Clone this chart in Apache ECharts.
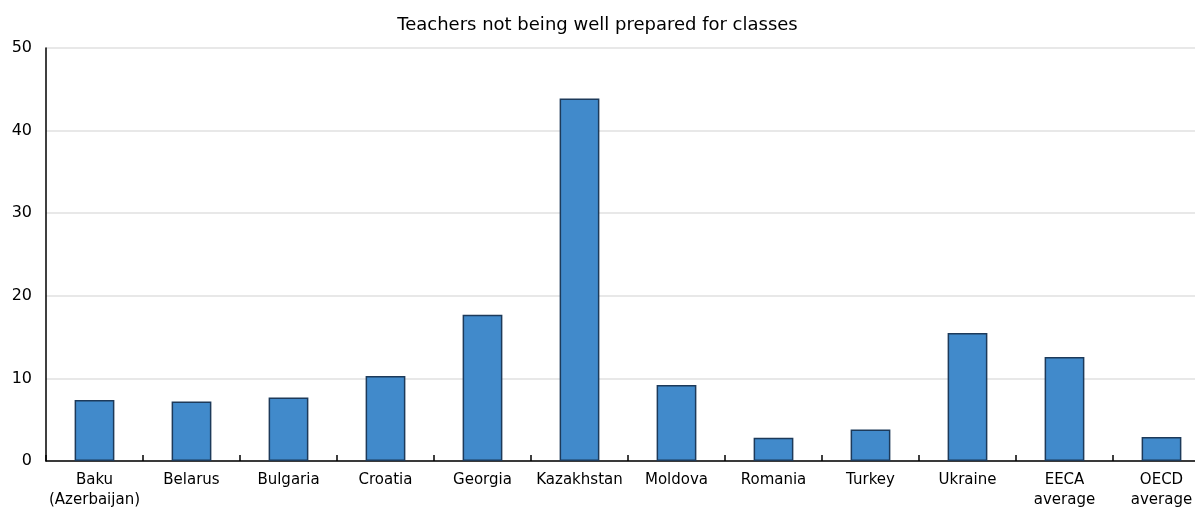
<!DOCTYPE html>
<html>
<head>
<meta charset="utf-8">
<script src="https://cdn.jsdelivr.net/npm/echarts@6/dist/echarts.min.js"></script>
<style>
  html, body { margin: 0; padding: 0; background: #fff; }
  #chart { width: 1195px; height: 508px; }
</style>
</head>
<body>
<div id="chart"></div>
<script>
var categories = ['Baku\n(Azerbaijan)', 'Belarus', 'Bulgaria', 'Croatia', 'Georgia', 'Kazakhstan',
  'Moldova', 'Romania', 'Turkey', 'Ukraine', 'EECA\naverage', 'OECD\naverage'];
var values = [7.4, 7.2, 7.7, 10.3, 17.7, 43.9, 9.2, 2.8, 3.8, 15.5, 12.6, 2.9];
var yTicks = [0, 10, 20, 30, 40, 50];

var chartDom = document.getElementById('chart');
var myChart = echarts.init(chartDom);

var option = {
  animation: false,
  textStyle: { fontFamily: 'DejaVu Sans' },
  title: {
    text: 'Teachers not being well prepared for classes',
    left: 'center',
    top: 11,
    textStyle: { fontSize: 18, fontWeight: 'normal', color: '#000', fontFamily: 'DejaVu Sans' }
  },
  // plot runs a bit past the right edge, like the source image
  grid: { left: 46, width: 1164, top: 48, height: 413, containLabel: false, outerBoundsMode: 'none' },
  xAxis: {
    type: 'category',
    data: categories,
    axisLine: { lineStyle: { color: '#000', width: 1.5 } },
    axisTick: { show: true, inside: true, length: 6, lineStyle: { color: '#000', width: 1.5 } },
    axisLabel: { color: '#000', fontSize: 15, margin: 9, lineHeight: 20, interval: 0 }
  },
  yAxis: {
    type: 'value',
    min: yTicks[0],
    max: yTicks[yTicks.length - 1],
    interval: 10,
    axisLine: { show: true, lineStyle: { color: '#000', width: 1.5 } },
    axisTick: { show: false },
    axisLabel: { color: '#000', fontSize: 16, margin: 14 },
    splitLine: { lineStyle: { color: '#e0e0e0', width: 1.5 } }
  },
  series: [{
    type: 'bar',
    data: values,
    barWidth: '41%',
    itemStyle: { color: '#418ACB', borderColor: '#1d3a5a', borderWidth: 1.5 }
  }]
};

myChart.setOption(option);
</script>
</body>
</html>
